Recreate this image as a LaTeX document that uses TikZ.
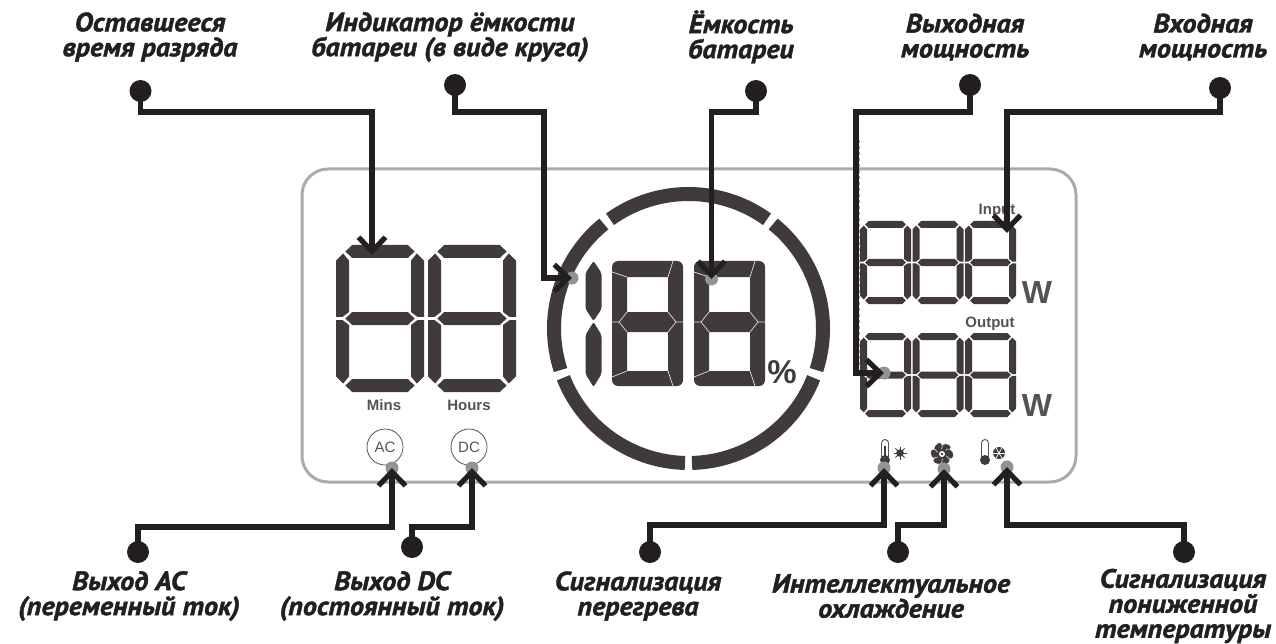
\documentclass[tikz,border=0pt]{standalone}
\usepackage{fontspec}
\setmainfont{PT Sans}[BoldItalicFeatures={FakeBold=1.6,FakeStretch=1.06}]
\newfontfamily\lcdfont{Liberation Sans}
\usetikzlibrary{arrows.meta,shapes.geometric}
\definecolor{inkcol}{HTML}{231F20}
\definecolor{segcol}{HTML}{403A3A}
\definecolor{rimcol}{HTML}{ABABAB}
\definecolor{lcdtext}{HTML}{555353}
\tikzset{
  conn/.style={draw=inkcol,line width=5.2pt,-{Straight Barb[length=14pt,width=27pt]},line join=miter},
  pin/.style={circle,fill=inkcol,inner sep=0pt,minimum size=22pt},
  hit/.style={circle,fill=gray!85,inner sep=0pt,minimum size=13pt},
  callout/.style={text=inkcol,align=center,inner sep=0pt,font=\fontsize{26.5}{25}\selectfont\bfseries\itshape},
  lcdlabel/.style={text=lcdtext,inner sep=0pt,font=\lcdfont\fontsize{15}{15}\selectfont\bfseries},
  unitmark/.style={text=lcdtext,inner sep=0pt,font=\lcdfont\fontsize{32}{32}\selectfont\bfseries},
  modering/.style={draw=lcdtext,circle,inner sep=0pt,minimum size=36pt,line width=.8pt,text=lcdtext,font=\lcdfont\fontsize{15}{15}\selectfont},
  ringseg/.style={draw=segcol,line width=14pt},
  seam/.style={draw=white!88!black,line width=.7pt},
}
% seven segments: centre x, centre y, half width, half height, stroke
\newcommand{\lcddigit}[5]{%
  \begin{scope}[shift={(#1,#2)},fill=segcol]
    \foreach \sx in {1,-1} \foreach \sy in {1,-1}
      \fill[xscale=\sx,yscale=\sy] ({-#3},{-#4+1.2*#5}) -- ({-#3+.55*#5},{-#4+.65*#5}) -- ({-#3+#5},{-#4+1.2*#5})
        -- ({-#3+#5},{-.5*#5}) -- ({-#3+.5*#5},{-.12*#5}) -- ({-#3},{-.12*#5}) -- cycle;
    \foreach \yc in {{-#4+.5*#5},0,{#4-.5*#5}}
      \fill ({-#3+.72*#5},\yc) -- ({-#3+1.25*#5},{\yc-.5*#5}) -- ({#3-1.25*#5},{\yc-.5*#5})
        -- ({#3-.72*#5},\yc) -- ({#3-1.25*#5},{\yc+.5*#5}) -- ({-#3+1.25*#5},{\yc+.5*#5}) -- cycle;
  \end{scope}}
% wide digit of the charge figure: left edge x
\newcommand{\lcdbig}[1]{%
  \begin{scope}[xshift=#1]
    \fill[segcol,even odd rule] [rounded corners=6pt] (0,261) rectangle (71,386) [sharp corners] (15,277) rectangle (56,312) (15,332) rectangle (56,371);
    \draw[seam] (0,272) -- (15,277) (61,261) -- (56,277) (0,377) -- (15,371) (56,371) -- (61,386);
    \draw[seam] (0,322) -- (7,322) -- (15,312) (7,322) -- (15,332) (71,322) -- (64,322) -- (56,312) (64,322) -- (56,332);
  \end{scope}}
% thermometer: tube x, then what fills it
\newcommand{\lcdthermo}[2]{%
  \draw[lcdtext,line width=.9pt,fill=white] (#1-3.5,462) -- (#1-3.5,443) arc (180:360:3.5) -- (#1+3.5,462);
  \fill[segcol] (#1,460) circle (5pt);
  #2
}
\begin{document}
\begin{tikzpicture}[x=1pt,y=-1pt]
%
  \useasboundingbox (0,0) rectangle (1276,644);
  \draw[rimcol,line width=3pt,rounded corners=26pt] (302,169) rectangle (1076,482);
%
  \lcddigit{380}{318.5}{44}{73.5}{13}
  \lcddigit{472}{318.5}{44}{73.5}{13}
  \foreach \cx in {885.5,938,990.5} {
    \lcddigit{\cx}{262.5}{25.5}{41.5}{7}
    \lcddigit{\cx}{375}{25.5}{42}{7}
  }
%
  \foreach \a/\b in {54.3/125.7,129/198,201.5/268.5,271.5/338.5,342/411}
    \draw[ringseg] (688.5,328.5) ++({-\a}:134.5) arc ({-\a}:{-\b}:134.5);
  \fill[segcol,rounded corners=2pt] (593.5,261) -- (601.5,273) -- (601.5,309) -- (593.5,321) -- (585.5,309) -- (585.5,273) -- cycle;
  \fill[segcol,rounded corners=2pt] (593.5,322) -- (601.5,335) -- (601.5,374) -- (593.5,387) -- (585.5,374) -- (585.5,335) -- cycle;
  \lcdbig{612}
  \lcdbig{694}
%
  \node (mins) at (384,405) [lcdlabel] {Mins};
  \node (hours) at (469,405) [lcdlabel] {Hours};
  \node (inlabel) at (997,211) [lcdlabel] {Input};
  \node (outlabel) at (990,324) [lcdlabel] {Output};
  \node (wattin) at (1037,292) [unitmark] {W};
  \node (wattout) at (1037,405) [unitmark] {W};
  \node (percent) at (782,372) [text=segcol,inner sep=0pt,font=\lcdfont\fontsize{33}{33}\selectfont\bfseries] {\%};
  \node (acmode) at (385,447) [modering] {AC};
  \node (dcmode) at (469,447) [modering] {DC};
%
  \lcdthermo{885}{\fill[segcol] (883.8,446) rectangle (886.2,460);}
  \lcdthermo{985}{}
  \fill[segcol] (900,453) circle (3.8pt);
  \foreach \a in {0,45,...,315} \draw[segcol,line width=.9pt] (900,453) -- ++(\a:6.5);
  \fill[segcol] (999,453) circle (6pt);
  \foreach \a in {0,60,120} \draw[white,line width=.7pt] (999,453) ++(\a:6) -- ++(\a+180:12);
  \foreach \a in {0,60,...,300}
    \fill[segcol,draw=white,line width=.5pt,rotate around={\a:(942,454)}] (945.5,447.5) ellipse (5.5pt and 3.8pt);
  \fill[segcol] (942,454) circle (5pt);
  \fill[white] (942,454) circle (3pt);
  \fill[segcol] (942,454) circle (1.4pt);
%
  \draw[gray!70,dashed,line width=1pt] (859,140) -- (859,365);
%
  \node (hitring) at (572,278) [hit] {};
  \node (hitcap) at (711.5,279) [hit] {};
  \node (hitout) at (884,373) [hit] {};
  \node (hitac) at (392,468) [hit] {};
  \node (hitdc) at (472,468) [hit] {};
  \node (hitwarm) at (884,468) [hit] {};
  \node (hitfan) at (944,469) [hit] {};
  \node (hitcold) at (1007,467) [hit] {};
  \coordinate (tipmins) at (372,255);
  \coordinate (tipin) at (1007,233);
%
  \node (pinmins) at (140.5,91) [pin] {};
  \node (pinring) at (455,85) [pin] {};
  \node (pincap) at (756,91) [pin] {};
  \node (pinout) at (970,85) [pin] {};
  \node (pinin) at (1220,88) [pin] {};
  \node (pinac) at (138,552) [pin] {};
  \node (pindc) at (412,547) [pin] {};
  \node (pinwarm) at (650,552) [pin] {};
  \node (pinfan) at (898,552) [pin] {};
  \node (pincold) at (1184,552) [pin] {};
%
  \draw[conn] (pinmins.center) |- (372,112) -- (tipmins);
  \draw[conn] (pinring.center) |- (544,112) |- (hitring.center);
  \draw[conn] (pincap.center) |- (711.5,112) -- (hitcap.center);
  \draw[conn] (pinout.center) |- (856,112) |- (hitout.center);
  \draw[conn] (pinin.center) |- (1007,112) -- (tipin);
  \draw[conn] (pinac.center) |- (392,527) -- (hitac.center);
  \draw[conn] (pindc.center) |- (472,527) -- (hitdc.center);
  \draw[conn] (pinwarm.center) |- (884,525) -- (hitwarm.center);
  \draw[conn] (pinfan.center) |- (944,525) -- (hitfan.center);
  \draw[conn] (pincold.center) |- (1007,525) -- (hitcold.center);
%
  \node (capmins) at (150,37) [callout] {Оставшееся\\время разряда};
  \node (capring) at (450,37) [callout] {Индикатор ёмкости\\батареи (в виде круга)};
  \node (capcap) at (741,37) [callout] {Ёмкость\\батареи};
  \node (capout) at (965,37) [callout] {Выходная\\мощность};
  \node (capin) at (1203,37) [callout] {Входная\\мощность};
  \node (capac) at (129,596) [callout] {Выход АС\\(переменный ток)};
  \node (capdc) at (392,596) [callout] {Выход DC\\(постоянный ток)};
  \node (capwarm) at (638,596) [callout] {Сигнализация\\перегрева};
  \node (capfan) at (891,596) [callout] {Интеллектуальное\\охлаждение};
  \node (capcold) at (1183,606) [callout] {Сигнализация\\пониженной\\температуры};
%
\end{tikzpicture}
\end{document}
